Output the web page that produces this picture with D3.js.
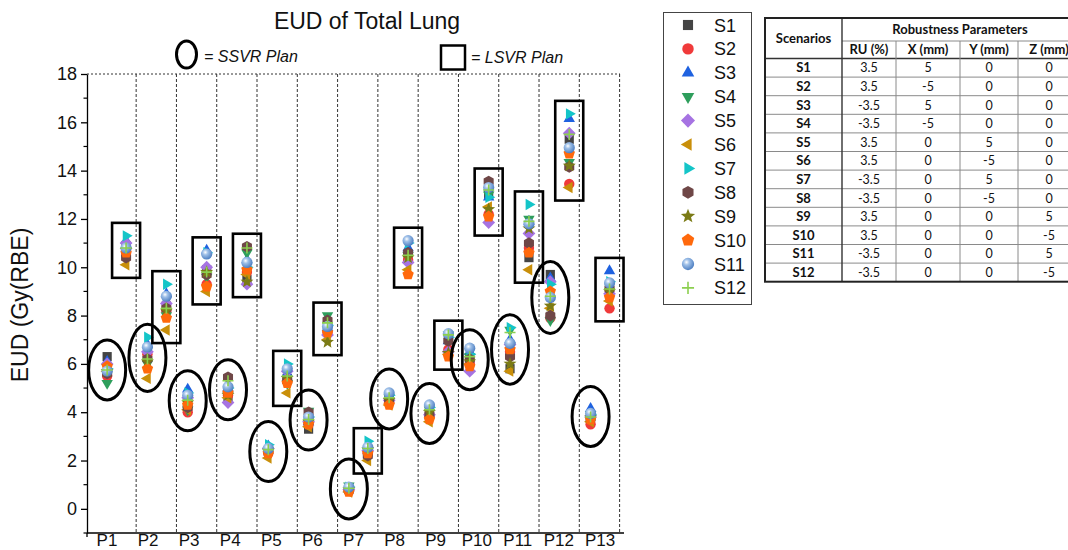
<!DOCTYPE html>
<html>
<head>
<meta charset="utf-8">
<script src="https://cdn.jsdelivr.net/npm/d3@7"></script>
<style>
  body { margin: 0; background: #fff; }
  svg { display: block; font-family: Arial, "Liberation Sans", sans-serif; }
</style>
</head>
<body>
<svg id="chart" width="1068" height="550"></svg>
<script>
// ---- data -------------------------------------------------------------
const patients = ["P1","P2","P3","P4","P5","P6","P7","P8","P9","P10","P11","P12","P13"];
const scenarios = ["S1","S2","S3","S4","S5","S6","S7","S8","S9","S10","S11","S12"];

// EUD (Gy(RBE)) per scenario (rows) and patient (columns), SSVR plans
const ssvrValues = [
  [6.3, 6.3, 4.5, 4.6, 2.4, 3.3, 0.8, 4.5, 4.0, 6.2, 5.8, 9.7, 3.85],
  [5.5, 6.4, 4.0, 4.7, 2.3, 3.5, 0.75, 4.4, 3.8, 6.0, 6.5, 7.9, 3.5],
  [6.1, 6.8, 4.95, 5.0, 2.6, 3.6, 0.85, 4.7, 4.2, 6.5, 7.0, 9.55, 4.15],
  [5.2, 6.0, 4.1, 4.7, 2.4, 4.05, 0.95, 4.6, 4.1, 6.3, 7.4, 7.8, 3.9],
  [6.0, 6.5, 4.6, 4.4, 2.5, 3.6, 0.8, 4.5, 3.9, 5.7, 6.8, 9.4, 3.8],
  [5.7, 5.4, 4.1, 4.6, 2.1, 3.4, 0.7, 4.3, 3.6, 6.0, 5.7, 8.3, 3.6],
  [5.8, 7.1, 4.8, 5.0, 2.65, 3.8, 0.9, 4.7, 4.2, 6.4, 7.5, 9.3, 3.9],
  [5.6, 6.2, 4.2, 5.45, 2.4, 4.0, 0.8, 4.5, 3.9, 6.2, 6.3, 8.0, 3.75],
  [5.7, 6.1, 4.4, 4.7, 2.4, 3.6, 0.8, 4.5, 4.0, 6.1, 6.0, 8.4, 3.8],
  [5.9, 5.8, 4.3, 4.8, 2.3, 3.5, 0.7, 4.3, 3.7, 5.9, 6.6, 9.0, 3.7],
  [5.7, 6.7, 4.7, 5.05, 2.5, 3.8, 0.9, 4.8, 4.3, 6.65, 6.85, 8.75, 3.95],
  [5.75, 6.2, 4.5, 5.3, 2.45, 3.7, 0.85, 4.6, 4.1, 6.3, 7.3, 8.8, 3.8]
];

// EUD (Gy(RBE)) per scenario (rows) and patient (columns), LSVR plans
const lsvrValues = [
  [10.9, 8.4, 9.9, 9.5, 5.4, 7.6, 2.35, 10.4, 7.1, 13.0, 10.4, 15.3, 9.2],
  [10.6, 8.2, 9.3, 9.8, 5.3, 7.3, 2.3, 10.3, 6.6, 12.2, 10.8, 13.45, 8.3],
  [11.1, 8.9, 10.7, 10.3, 5.6, 7.5, 2.6, 10.8, 6.95, 12.9, 11.9, 16.15, 9.85],
  [10.7, 8.0, 9.6, 10.6, 5.2, 8.0, 2.4, 10.5, 7.2, 13.0, 12.0, 14.35, 9.0],
  [11.0, 8.5, 10.0, 9.3, 5.7, 7.2, 2.4, 10.2, 6.5, 11.85, 11.4, 15.55, 8.9],
  [10.1, 7.4, 9.0, 9.7, 4.8, 7.0, 2.0, 9.9, 6.4, 12.5, 9.9, 13.3, 8.6],
  [11.3, 9.3, 10.6, 10.0, 6.0, 7.6, 2.8, 11.0, 7.1, 12.9, 12.6, 16.35, 9.4],
  [10.4, 8.3, 9.7, 10.85, 5.3, 7.8, 2.2, 10.6, 6.95, 13.55, 11.0, 14.15, 9.1],
  [10.7, 8.2, 9.8, 9.4, 5.4, 6.9, 2.45, 10.4, 6.45, 12.4, 11.6, 14.2, 9.0],
  [10.6, 7.9, 9.2, 9.9, 5.2, 7.3, 2.3, 9.7, 6.3, 12.1, 10.6, 14.7, 8.75],
  [10.8, 8.8, 10.55, 10.2, 5.8, 7.55, 2.55, 11.1, 7.25, 13.3, 11.8, 14.95, 9.35],
  [10.8, 8.3, 9.8, 10.8, 5.5, 7.7, 2.5, 10.5, 7.2, 13.2, 11.9, 15.5, 9.1]
];

const yTickValues = [0, 2, 4, 6, 8, 10, 12, 14, 16, 18];

// robustness parameters of each scenario
const ruPercent = ["3.5","3.5","-3.5","-3.5","3.5","3.5","-3.5","-3.5","3.5","3.5","-3.5","-3.5"];
const xShiftMm  = ["5","-5","5","-5","0","0","0","0","0","0","0","0"];
const yShiftMm  = ["0","0","0","0","5","-5","5","-5","0","0","0","0"];
const zShiftMm  = ["0","0","0","0","0","0","0","0","5","-5","5","-5"];
const tableColumns = ["RU (%)", "X (mm)", "Y (mm)", "Z (mm)"];

// marker shape and colour for each scenario
const markerShapes = ["square","circle","triangleUp","triangleDown","diamond","triangleLeft",
                      "triangleRight","hexagon","star","pentagon","sphere","plus"];
const markerColors = ["#444444","#f03a3a","#1f62e0","#2e9e5c","#a673e2","#c98f0a",
                      "#14c5c8","#6f4747","#7b7b16","#ff690c","#6c9bd6","#8ccf4f"];

// ---- setup ------------------------------------------------------------
const svg = d3.select("#chart");
svg.append("rect").attr("width", 1068).attr("height", 550).attr("fill", "#fff");

const defs = svg.append("defs");
const grad = defs.append("radialGradient").attr("id", "sphereFill")
  .attr("cx", "38%").attr("cy", "35%").attr("r", "65%");
grad.append("stop").attr("offset", "0%").attr("stop-color", "#ffffff");
grad.append("stop").attr("offset", "35%").attr("stop-color", "#9fc0e8");
grad.append("stop").attr("offset", "100%").attr("stop-color", "#4f80c2");

const plotLeft = 87, plotRight = 620, plotTop = 74, plotBottom = 533;

const x = d3.scaleLinear().domain([0.5, 13.73]).range([plotLeft, plotRight]);
const y = d3.scaleLinear().domain([-1, 18]).range([plotBottom, plotTop]);
const labelX = d3.scalePoint().domain(patients).range([107, 600]);

const ssvrOffset = 0, lsvrOffset = 0.47, dividerOffset = 0.72;

function polygon(n, r, rot) {
  const pts = [];
  for (let k = 0; k < n; k++) {
    const a = rot + k * 2 * Math.PI / n;
    pts.push([r * Math.sin(a), -r * Math.cos(a)]);
  }
  return "M" + pts.map(p => p[0].toFixed(2) + "," + p[1].toFixed(2)).join("L") + "Z";
}
function starPath(ro, ri) {
  const pts = [];
  for (let k = 0; k < 10; k++) {
    const a = k * Math.PI / 5;
    const r = k % 2 ? ri : ro;
    pts.push([r * Math.sin(a), -r * Math.cos(a)]);
  }
  return "M" + pts.map(p => p[0].toFixed(2) + "," + p[1].toFixed(2)).join("L") + "Z";
}
function circlePath(r) {
  return `M${-r},0A${r},${r} 0 1,0 ${r},0A${r},${r} 0 1,0 ${-r},0Z`;
}
function markerPath(shape, s) {
  switch (shape) {
    case "square": return `M${-4.6*s},${-4.6*s}H${4.6*s}V${4.6*s}H${-4.6*s}Z`;
    case "circle": return circlePath(5.2 * s);
    case "triangleUp": return polygon(3, 6.6 * s, 0);
    case "triangleDown": return polygon(3, 6.6 * s, Math.PI);
    case "triangleLeft": return polygon(3, 6.6 * s, -Math.PI / 2);
    case "triangleRight": return polygon(3, 6.6 * s, Math.PI / 2);
    case "diamond": return polygon(4, 6.4 * s, 0);
    case "hexagon": return polygon(6, 5.8 * s, 0);
    case "pentagon": return polygon(5, 6.0 * s, 0);
    case "star": return starPath(6.8 * s, 2.9 * s);
    case "sphere": return circlePath(5.6 * s);
    case "plus": return `M${-5.5*s},0H${5.5*s}M0,${-5.5*s}V${5.5*s}`;
  }
}
function drawMarker(g, si, cx, cy, s) {
  const shape = markerShapes[si];
  const p = g.append("path").attr("d", markerPath(shape, s))
    .attr("transform", `translate(${cx},${cy})`);
  if (shape === "plus") {
    p.attr("fill", "none").attr("stroke", markerColors[si]).attr("stroke-width", 1.6);
  } else if (shape === "sphere") {
    p.attr("fill", "url(#sphereFill)");
  } else {
    p.attr("fill", markerColors[si]);
  }
}

// ---- title & plan key -------------------------------------------------
svg.append("text").attr("x", 367).attr("y", 29).attr("text-anchor", "middle")
  .attr("font-size", 23).attr("fill", "#111").text("EUD of Total Lung");

svg.append("ellipse").attr("cx", 186.5).attr("cy", 54.5).attr("rx", 10).attr("ry", 13.5)
  .attr("fill", "none").attr("stroke", "#000").attr("stroke-width", 3);
svg.append("text").attr("x", 204).attr("y", 62).attr("font-size", 16)
  .attr("font-style", "italic").attr("fill", "#111").text("= SSVR Plan");

svg.append("rect").attr("x", 441).attr("y", 45.5).attr("width", 24).attr("height", 24)
  .attr("fill", "none").attr("stroke", "#000").attr("stroke-width", 2.5);
svg.append("text").attr("x", 471).attr("y", 63).attr("font-size", 16)
  .attr("font-style", "italic").attr("fill", "#111").text("= LSVR Plan");

// ---- frame & dividers -------------------------------------------------
svg.append("line").attr("x1", plotLeft).attr("x2", plotRight)
  .attr("y1", plotTop).attr("y2", plotTop)
  .attr("stroke", "#333").attr("stroke-width", 1).attr("stroke-dasharray", "2,2");

svg.append("g").selectAll("line").data(patients).join("line")
  .attr("x1", (d, i) => x(i + 1 + dividerOffset)).attr("x2", (d, i) => x(i + 1 + dividerOffset))
  .attr("y1", plotTop).attr("y2", plotBottom)
  .attr("stroke", "#333").attr("stroke-width", 1).attr("stroke-dasharray", "3,2");

// y axis with major and minor ticks
const yAxis = svg.append("g").attr("transform", `translate(${plotLeft},0)`)
  .call(d3.axisLeft(y).tickValues(yTickValues).tickSize(6).tickSizeOuter(0).tickPadding(4));
yAxis.select(".domain").attr("stroke", "#000").attr("stroke-width", 1.3);
yAxis.selectAll(".tick line").attr("stroke", "#000").attr("stroke-width", 1.3);
yAxis.selectAll(".tick text").attr("font-size", 18).attr("fill", "#111")
  .attr("font-family", "Arial, 'Liberation Sans', sans-serif");
svg.append("g").selectAll("line").data(d3.range(-1, 18, 2)).join("line")
  .attr("x1", plotLeft - 3.5).attr("x2", plotLeft)
  .attr("y1", d => y(d)).attr("y2", d => y(d))
  .attr("stroke", "#000").attr("stroke-width", 1.2);

// x axis baseline and patient labels
svg.append("line").attr("x1", plotLeft).attr("x2", plotRight + 4)
  .attr("y1", plotBottom).attr("y2", plotBottom)
  .attr("stroke", "#000").attr("stroke-width", 1.3);
svg.append("line").attr("x1", plotLeft).attr("x2", plotLeft)
  .attr("y1", plotBottom).attr("y2", plotBottom + 4)
  .attr("stroke", "#000").attr("stroke-width", 1.3);
svg.append("g").selectAll("text").data(patients).join("text")
  .attr("x", d => labelX(d)).attr("y", 546).attr("text-anchor", "middle")
  .attr("font-size", 17).attr("fill", "#111").text(d => d);

svg.append("text")
  .attr("transform", "translate(28,305) rotate(-90)")
  .attr("text-anchor", "middle").attr("font-size", 23).attr("fill", "#111")
  .text("EUD (Gy(RBE)");

// ---- markers ----------------------------------------------------------
const marks = svg.append("g");
scenarios.forEach((s, si) => {
  patients.forEach((p, pi) => {
    drawMarker(marks, si, x(pi + 1 + ssvrOffset), y(ssvrValues[si][pi]), 1);
    drawMarker(marks, si, x(pi + 1 + lsvrOffset), y(lsvrValues[si][pi]), 1);
  });
});

// ---- plan outlines: ellipse = SSVR, rectangle = LSVR ------------------
const outlines = svg.append("g").attr("fill", "none").attr("stroke", "#000");
patients.forEach((p, pi) => {
  const sv = ssvrValues.map(r => r[pi]);
  const sTop = y(d3.max(sv)), sBot = y(d3.min(sv));
  outlines.append("ellipse")
    .attr("cx", x(pi + 1 + ssvrOffset)).attr("cy", (sTop + sBot) / 2)
    .attr("rx", 18.5).attr("ry", Math.max(30, (sBot - sTop) / 2 + 13))
    .attr("stroke-width", 3);

  const lv = lsvrValues.map(r => r[pi]);
  let lTop = y(d3.max(lv)) - 13, lBot = y(d3.min(lv)) + 13;
  if (lBot - lTop < 42) { const c = (lTop + lBot) / 2; lTop = c - 21; lBot = c + 21; }
  outlines.append("rect")
    .attr("x", x(pi + 1 + lsvrOffset) - 14).attr("y", lTop)
    .attr("width", 28).attr("height", lBot - lTop)
    .attr("stroke-width", 2.6);
});

// ---- scenario legend --------------------------------------------------
const legend = svg.append("g");
legend.append("rect").attr("x", 663.5).attr("y", 12.5).attr("width", 88).attr("height", 292)
  .attr("fill", "#fff").attr("stroke", "#444").attr("stroke-width", 1);
scenarios.forEach((s, si) => {
  const cy = 25 + si * 23.9;
  drawMarker(legend, si, 688, cy, 1.1);
  legend.append("text").attr("x", 714).attr("y", cy + 6.5).attr("font-size", 18)
    .attr("fill", "#111").text(s);
});

// ---- robustness parameter table --------------------------------------
const table = svg.append("g").attr("font-family", "Lato, 'Open Sans', sans-serif");
const colEdges = [765, 842, 896, 960, 1018, 1080];
const tTop = 18, h1 = 41, h2 = 58.5, rowH = 18.6;
const tBottom = h2 + rowH * scenarios.length;
const thin = "#8a8a8a";
const fsHead = 13, fsBody = 12.5;

// header and body separators
table.append("line").attr("x1", colEdges[1]).attr("x2", colEdges[5]).attr("y1", h1).attr("y2", h1)
  .attr("stroke", thin).attr("stroke-width", 1);
table.append("line").attr("x1", colEdges[0]).attr("x2", colEdges[5]).attr("y1", h2).attr("y2", h2)
  .attr("stroke", "#333").attr("stroke-width", 1.6);
scenarios.forEach((s, i) => {
  if (i === 0) return;
  const yy = h2 + i * rowH;
  table.append("line").attr("x1", colEdges[0]).attr("x2", colEdges[5]).attr("y1", yy).attr("y2", yy)
    .attr("stroke", thin).attr("stroke-width", 1);
});
table.append("line").attr("x1", colEdges[1]).attr("x2", colEdges[1]).attr("y1", tTop).attr("y2", tBottom)
  .attr("stroke", "#333").attr("stroke-width", 1.4);
[2, 3, 4].forEach(c => {
  table.append("line").attr("x1", colEdges[c]).attr("x2", colEdges[c]).attr("y1", h1).attr("y2", tBottom)
    .attr("stroke", thin).attr("stroke-width", 1);
});
table.append("rect").attr("x", colEdges[0]).attr("y", tTop)
  .attr("width", colEdges[5] - colEdges[0]).attr("height", tBottom - tTop)
  .attr("fill", "none").attr("stroke", "#222").attr("stroke-width", 2);

table.append("text").attr("x", (colEdges[0] + colEdges[1]) / 2).attr("y", (tTop + h2) / 2 + 4.5)
  .attr("text-anchor", "middle").attr("font-size", fsHead).attr("font-weight", "bold")
  .attr("fill", "#111").text("Scenarios");
table.append("text").attr("x", 960).attr("y", (tTop + h1) / 2 + 4.5)
  .attr("text-anchor", "middle").attr("font-size", fsHead).attr("font-weight", "bold")
  .attr("fill", "#111").text("Robustness Parameters");
tableColumns.forEach((c, ci) => {
  table.append("text").attr("x", (colEdges[ci + 1] + colEdges[ci + 2]) / 2).attr("y", (h1 + h2) / 2 + 4.5)
    .attr("text-anchor", "middle").attr("font-size", fsHead).attr("font-weight", "bold")
    .attr("fill", "#111").text(c);
});
const columnsData = [ruPercent, xShiftMm, yShiftMm, zShiftMm];
scenarios.forEach((s, i) => {
  const cy = h2 + (i + 0.5) * rowH + 4.5;
  table.append("text").attr("x", (colEdges[0] + colEdges[1]) / 2).attr("y", cy)
    .attr("text-anchor", "middle").attr("font-size", fsHead).attr("font-weight", "bold")
    .attr("fill", "#111").text(s);
  columnsData.forEach((col, ci) => {
    table.append("text").attr("x", (colEdges[ci + 1] + colEdges[ci + 2]) / 2).attr("y", cy)
      .attr("text-anchor", "middle").attr("font-size", fsBody)
      .attr("fill", "#111").text(col[i]);
  });
});
</script>
</body>
</html>
